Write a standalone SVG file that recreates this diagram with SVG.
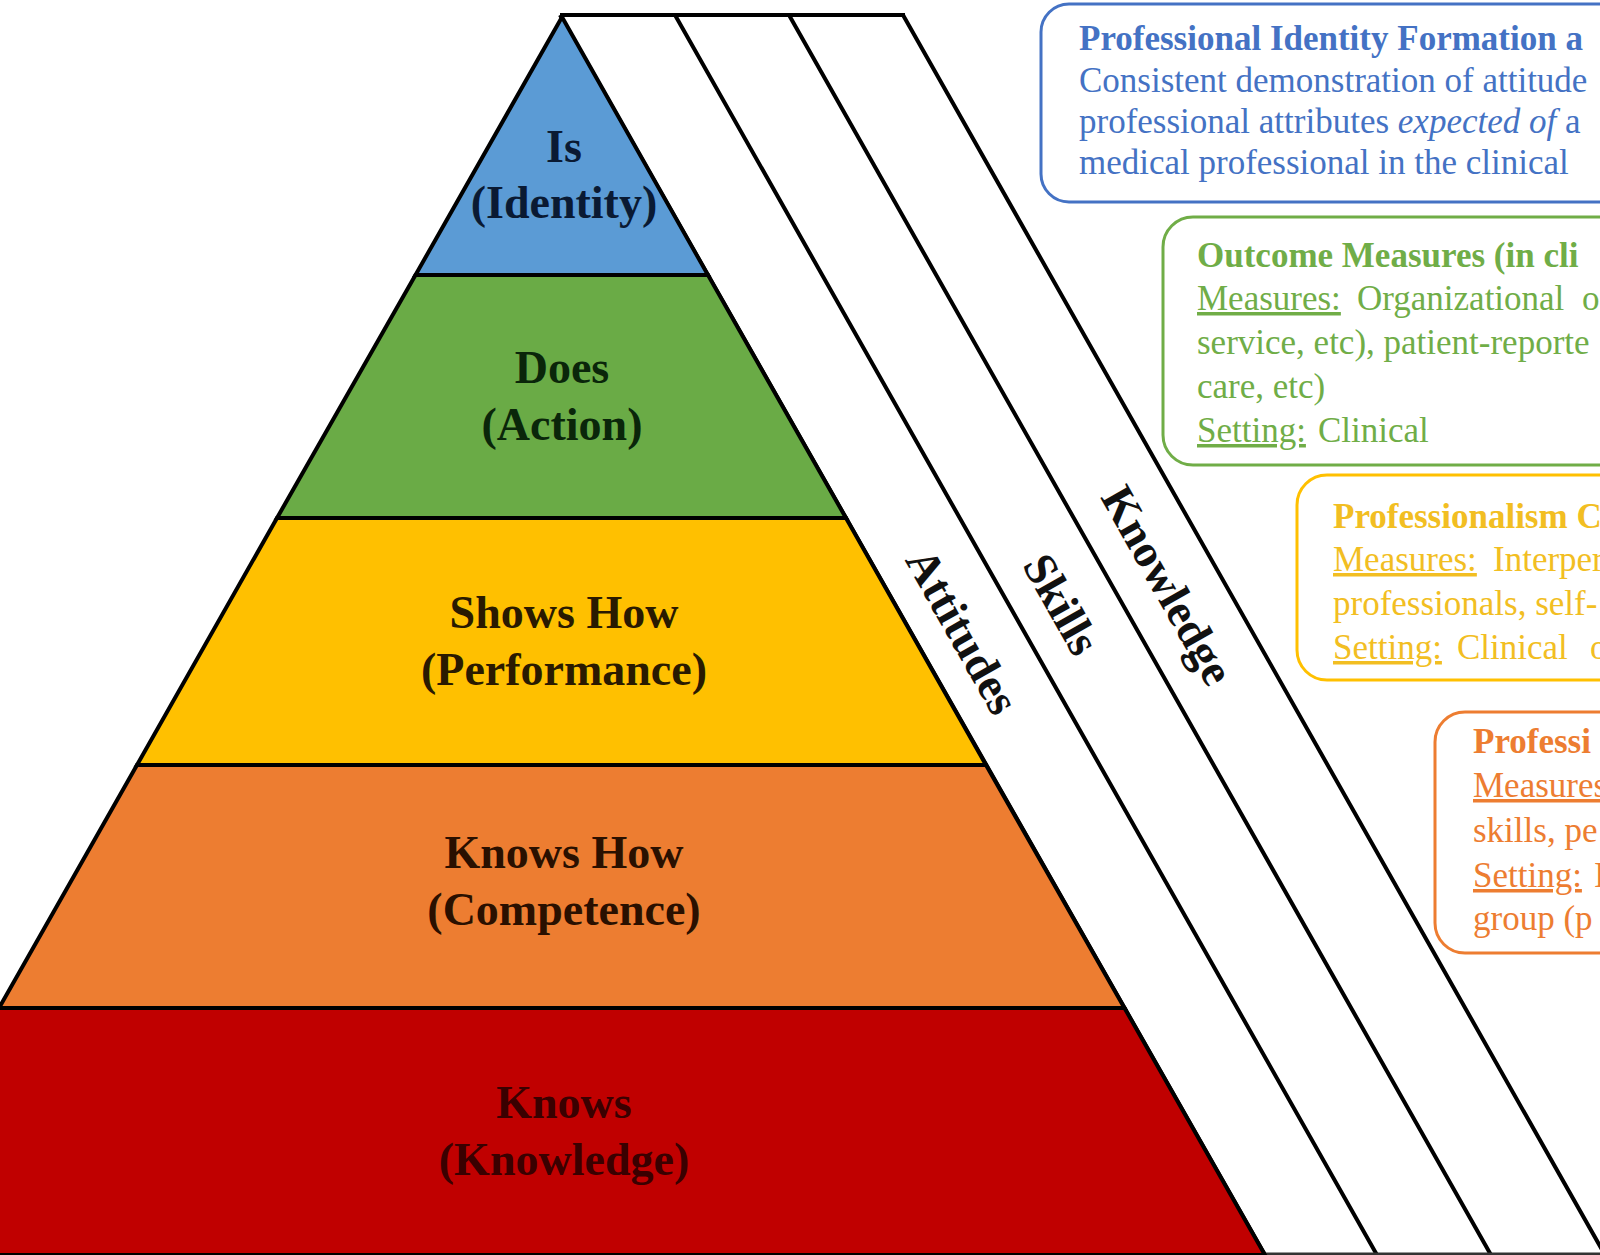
<svg xmlns="http://www.w3.org/2000/svg" width="1600" height="1255" viewBox="0 0 1600 1255">
<style>
.band{stroke:#000;stroke-width:4;stroke-linejoin:miter}
.lbl{font-family:"Liberation Serif","Times New Roman",serif;font-weight:bold;font-size:46px;text-anchor:middle}
.line{fill:none;stroke:#000;stroke-width:4}
.slbl{font-family:"Liberation Serif","Times New Roman",serif;font-weight:bold;font-size:46px;text-anchor:middle;fill:#111}
.box{fill:#fff;stroke-width:3}
.bt{font-family:"Liberation Serif","Times New Roman",serif;font-size:35px}
.b{font-weight:bold}
.u{text-decoration:underline}
</style>
<rect width="1600" height="1255" fill="#fff"/>
<g id="strips">
  <path class="line" d="M560 15 H905 M560 15 L1265 1255 M675 15 L1377 1255 M789 15 L1491 1255 M903 15 L1605 1255"/>
  <line x1="0" y1="1254" x2="1600" y2="1254" stroke="#333" stroke-width="3"/>
  <g id="strip-attitudes"><text class="slbl" transform="translate(963,631) rotate(60.5)" y="16">Attitudes</text></g>
  <g id="strip-skills"><text class="slbl" transform="translate(1062,604) rotate(60.5)" y="16">Skills</text></g>
  <g id="strip-knowledge"><text class="slbl" transform="translate(1168,585) rotate(60.5)" y="16">Knowledge</text></g>
</g>
<g id="pyramid">
  <g id="band-is">
    <polygon class="band" fill="#5B9BD5" points="562,17 708,275 415.5,275"/>
    <text class="lbl" fill="#0a1a33" x="564" y="162">Is</text>
    <text class="lbl" fill="#0a1a33" x="564" y="218">(Identity)</text>
  </g>
  <g id="band-does">
    <polygon class="band" fill="#6AAB46" points="415.5,275 708,275 846,518 277,518"/>
    <text class="lbl" fill="#0a260a" x="562" y="383">Does</text>
    <text class="lbl" fill="#0a260a" x="562" y="440">(Action)</text>
  </g>
  <g id="band-shows">
    <polygon class="band" fill="#FFC000" points="277,518 846,518 986,765 137,765"/>
    <text class="lbl" fill="#2a1a00" x="564" y="628">Shows How</text>
    <text class="lbl" fill="#2a1a00" x="564" y="685">(Performance)</text>
  </g>
  <g id="band-knowshow">
    <polygon class="band" fill="#ED7D31" points="137,765 986,765 1124.5,1008 -1,1008"/>
    <text class="lbl" fill="#2a1000" x="564" y="868">Knows How</text>
    <text class="lbl" fill="#2a1000" x="564" y="925">(Competence)</text>
  </g>
  <g id="band-knows">
    <polygon class="band" fill="#C00000" points="-6,1008 1124.5,1008 1265,1255 -6,1255"/>
    <text class="lbl" fill="#3a0000" x="564" y="1118">Knows</text>
    <text class="lbl" fill="#3a0000" x="564" y="1175">(Knowledge)</text>
  </g>
</g>
<g id="box-identity">
  <rect class="box" stroke="#4472C4" x="1041" y="4" width="700" height="198" rx="28"/>
  <text class="bt" fill="#4472C4">
    <tspan class="b" x="1079" y="50">Professional Identity Formation a</tspan>
    <tspan x="1079" y="92">Consistent demonstration of attitude</tspan>
    <tspan x="1079" y="133">professional attributes <tspan font-style="italic">expected of</tspan> a</tspan>
    <tspan x="1079" y="174">medical professional in the clinical</tspan>
  </text>
</g>
<g id="box-outcome">
  <rect class="box" stroke="#70AD47" x="1163" y="217" width="600" height="248" rx="30"/>
  <text class="bt" fill="#70AD47">
    <tspan class="b" x="1197" y="267">Outcome Measures (in cli</tspan>
    <tspan x="1197" y="310" class="u">Measures:</tspan><tspan x="1357" y="310">Organizational</tspan><tspan x="1582" y="310">o</tspan>
    <tspan x="1197" y="354">service, etc), patient-reporte</tspan>
    <tspan x="1197" y="398">care, etc)</tspan>
    <tspan x="1197" y="442" class="u">Setting:</tspan><tspan x="1318" y="442">Clinical</tspan>
  </text>
</g>
<g id="box-professionalism">
  <rect class="box" stroke="#FFC000" x="1297" y="475" width="500" height="205" rx="30"/>
  <text class="bt" fill="#F2BE22">
    <tspan class="b" x="1333" y="528">Professionalism C</tspan>
    <tspan x="1333" y="571" class="u">Measures:</tspan><tspan x="1493" y="571">Interper</tspan>
    <tspan x="1333" y="615">professionals, self-</tspan>
    <tspan x="1333" y="659" class="u">Setting:</tspan><tspan x="1457" y="659">Clinical</tspan><tspan x="1590" y="659">o</tspan>
  </text>
</g>
<g id="box-professional">
  <rect class="box" stroke="#ED7D31" x="1435" y="712" width="400" height="241" rx="30"/>
  <text class="bt" fill="#ED7D31">
    <tspan class="b" x="1473" y="753">Professi</tspan>
    <tspan x="1473" y="797" class="u">Measures</tspan>
    <tspan x="1473" y="842">skills, pe</tspan>
    <tspan x="1473" y="887" class="u">Setting:</tspan><tspan x="1594" y="887">I</tspan>
    <tspan x="1473" y="930">group (p</tspan>
  </text>
</g>
</svg>
